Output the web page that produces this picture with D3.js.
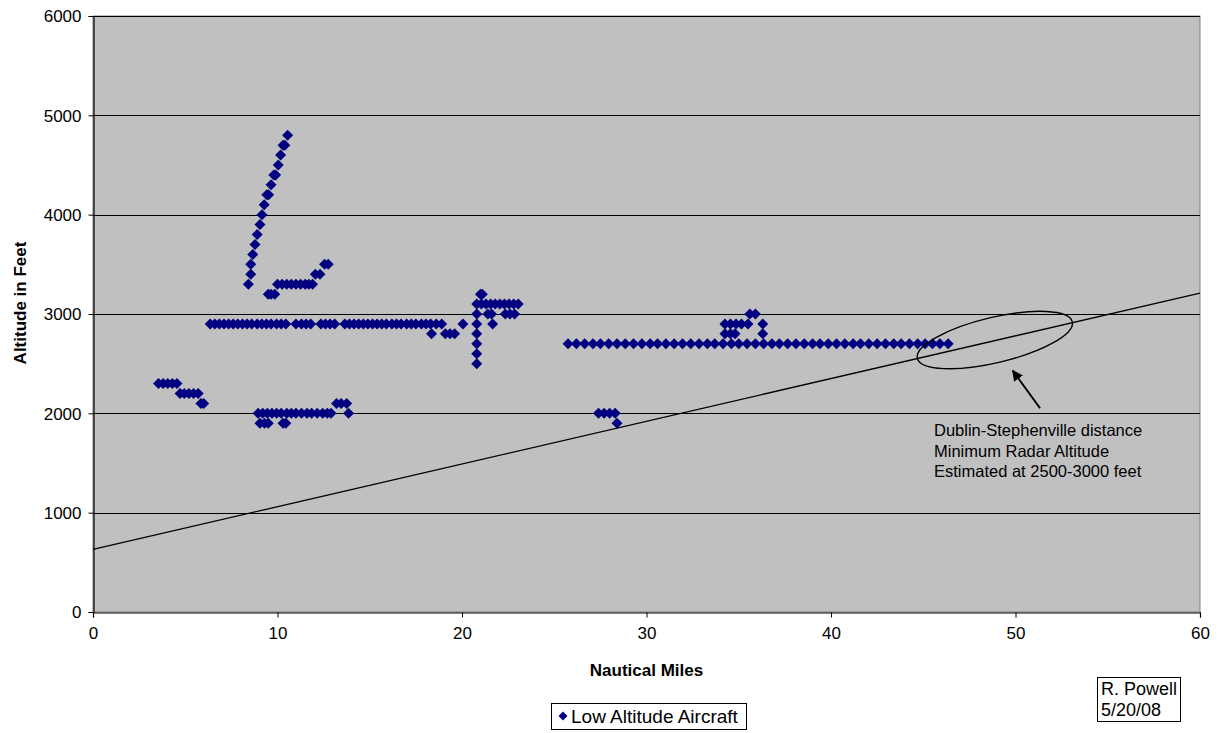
<!DOCTYPE html>
<html>
<head>
<meta charset="utf-8">
<script src="https://cdn.jsdelivr.net/npm/d3@7"></script>
<style>
  html, body { margin: 0; padding: 0; background: #fff; }
  svg text { font-family: "Liberation Sans", Arial, sans-serif; }
</style>
</head>
<body>
<svg id="chart" width="1219" height="733"></svg>
<script>
// Radar returns: [nautical miles, altitude in feet]
const westLow = [
  [3.55,2300],[3.8,2300],[4.05,2300],[4.3,2300],[4.55,2300],
  [4.72,2200],[4.95,2200],[5.2,2200],[5.45,2200],[5.7,2200],
  [5.85,2100],[6.0,2100]
];
const climbTrack = [
  [8.42,3300],[8.55,3400],[8.55,3500],[8.66,3600],[8.78,3700],[8.9,3800],
  [9.05,3900],[9.16,4000],[9.28,4100],[9.42,4200],[9.52,4200],[9.65,4300],
  [9.8,4400],[9.9,4400],[10.04,4500],[10.17,4600],[10.3,4700],[10.4,4700],[10.55,4800]
];
const climbLevel = [
  [9.5,3200],[9.65,3200],[9.85,3200],
  [10.0,3300],[10.25,3300],[10.5,3300],[10.75,3300],[11.0,3300],[11.25,3300],[11.5,3300],[11.7,3300],[11.9,3300],
  [12.05,3400],[12.3,3400],[12.55,3500],[12.75,3500]
];
const level2900 = [
  [6.35,2900],[6.6,2900],[6.85,2900],[7.1,2900],[7.35,2900],[7.6,2900],[7.85,2900],[8.1,2900],
  [8.35,2900],[8.6,2900],[8.9,2900],[9.15,2900],[9.4,2900],[9.65,2900],[9.95,2900],[10.2,2900],
  [10.45,2900],[11.0,2900],[11.3,2900],[11.55,2900],[11.8,2900],[12.35,2900],[12.6,2900],[12.85,2900],
  [13.1,2900],[13.65,2900],[13.9,2900],[14.15,2900],[14.4,2900],[14.65,2900],[14.9,2900],[15.15,2900],
  [15.4,2900],[15.65,2900],[15.9,2900],[16.2,2900],[16.45,2900],[16.7,2900],[17.0,2900],[17.25,2900],
  [17.5,2900],[17.8,2900],[18.05,2900],[18.3,2900],[18.6,2900],[18.9,2900],[20.05,2900],
  [18.35,2800],[19.1,2800],[19.35,2800],[19.6,2800]
];
const level2000 = [
  [8.95,2000],[9.2,2000],[9.45,2000],[9.7,2000],[9.95,2000],[10.2,2000],[10.5,2000],[10.75,2000],
  [11.0,2000],[11.3,2000],[11.6,2000],[11.85,2000],[12.15,2000],[12.45,2000],[12.7,2000],[12.9,2000],
  [13.2,2100],[13.45,2100],[13.75,2100],[13.85,2000],
  [9.05,1900],[9.3,1900],[9.5,1900],[10.3,1900],[10.45,1900]
];
const turnCluster = [
  [20.8,2500],[20.8,2600],[20.8,2700],[20.8,2800],[20.8,2900],[20.8,3000],[20.8,3100],
  [21.0,3200],[21.1,3200],
  [21.05,3100],[21.3,3100],[21.55,3100],[21.8,3100],[22.05,3100],[22.3,3100],[22.55,3100],[22.8,3100],[23.05,3100],
  [21.4,3000],[21.6,3000],[22.35,3000],[22.6,3000],[22.85,3000],[21.66,2900]
];
const level2700 = [
  [25.75,2700],[26.2,2700],[26.65,2700],[27.1,2700],[27.5,2700],[27.95,2700],[28.4,2700],[28.85,2700],
  [29.3,2700],[29.75,2700],[30.2,2700],[30.6,2700],[31.05,2700],[31.5,2700],[31.95,2700],[32.4,2700],
  [32.85,2700],[33.3,2700],[33.7,2700],[34.15,2700],[34.6,2700],[35.0,2700],[35.45,2700],[35.9,2700],
  [36.35,2700],[36.8,2700],[37.2,2700],[37.65,2700],[38.1,2700],[38.55,2700],[39.0,2700],[39.4,2700],
  [39.85,2700],[40.3,2700],[40.75,2700],[41.2,2700],[41.6,2700],[42.05,2700],[42.5,2700],[42.95,2700],
  [43.4,2700],[43.8,2700],[44.25,2700],[44.7,2700],[45.1,2700],[45.5,2700],[45.9,2700],[46.35,2700]
];
const low2000East = [
  [27.4,2000],[27.7,2000],[28.0,2000],[28.3,2000],[28.4,1900]
];
const eastCluster = [
  [34.25,2800],[34.55,2800],[34.8,2800],
  [34.25,2900],[34.55,2900],[34.85,2900],[35.15,2900],[35.5,2900],
  [35.6,3000],[35.9,3000],[36.3,2900],[36.3,2800]
];

// Minimum radar altitude reference line
const radarLine = [[0, 630], [60, 3210]];

// Axis ticks and labels
const xTicks = [0, 10, 20, 30, 40, 50, 60];
const yTicks = [0, 1000, 2000, 3000, 4000, 5000, 6000];
const noteLines = ["Dublin-Stephenville distance", "Minimum Radar Altitude", "Estimated at 2500-3000 feet"];
const noteEllipse = { nm: 48.88, ft: 2738 };
const noteArrow = [[51.33, 2051], [49.85, 2430]];
const seriesName = "Low Altitude Aircraft";
const signature = ["R. Powell", "5/20/08"];

const points = [].concat(westLow, climbTrack, climbLevel, level2900, level2000,
                         turnCluster, level2700, low2000East, eastCluster);

const svg = d3.select("#chart");
const L = 93, R = 1200, T = 16, B = 612;
const x = d3.scaleLinear().domain([0, 60]).range([L, R]);
const y = d3.scaleLinear().domain([0, 6000]).range([B, T]);
const navy = "#000080";
const fs = 17;

// Plot area
svg.append("rect").attr("x", L).attr("y", T).attr("width", R - L).attr("height", B - T)
  .attr("fill", "#c0c0c0").attr("stroke", "#808080").attr("stroke-width", 1);

// Horizontal gridlines
svg.append("g").selectAll("line").data(yTicks.filter(d => d > 0)).join("line")
  .attr("x1", L).attr("x2", R)
  .attr("y1", d => Math.round(y(d)) + 0.5).attr("y2", d => Math.round(y(d)) + 0.5)
  .attr("stroke", "#000").attr("stroke-width", 1);

// Axes
const xAxis = svg.append("g").attr("transform", `translate(0,${B + 0.5})`)
  .call(d3.axisBottom(x).tickValues(xTicks).tickSize(5).tickPadding(9).tickFormat(d3.format("d")));
const yAxis = svg.append("g").attr("transform", `translate(${L + 0.5},0)`)
  .call(d3.axisLeft(y).tickValues(yTicks).tickSize(5).tickPadding(7).tickFormat(d3.format("d")));
[xAxis, yAxis].forEach(g => {
  g.select(".domain").attr("stroke", "#000").attr("stroke-width", 1.2);
  g.selectAll(".tick line").attr("stroke", "#000");
  g.selectAll(".tick text").attr("font-size", fs).attr("fill", "#000")
    .attr("font-family", "'Liberation Sans', Arial, sans-serif");
});
yAxis.selectAll(".tick text").attr("dy", "0.35em");

// Axis titles
svg.append("text").attr("x", (L + R) / 2).attr("y", 676).attr("text-anchor", "middle")
  .attr("font-size", fs).attr("font-weight", "bold").text("Nautical Miles");
svg.append("text").attr("transform", `translate(26,${303}) rotate(-90)`).attr("text-anchor", "middle")
  .attr("font-size", fs).attr("font-weight", "bold").text("Altitude in Feet");

// Reference line
svg.append("line")
  .attr("x1", x(radarLine[0][0])).attr("y1", y(radarLine[0][1]))
  .attr("x2", x(radarLine[1][0])).attr("y2", y(radarLine[1][1]))
  .attr("stroke", "#000").attr("stroke-width", 1.3);

// Diamond markers
const diamond = {
  draw(ctx, size) {
    const r = Math.sqrt(size) / 2;
    ctx.moveTo(0, -r); ctx.lineTo(r, 0); ctx.lineTo(0, r); ctx.lineTo(-r, 0); ctx.closePath();
  }
};
svg.append("g").selectAll("path").data(points).join("path")
  .attr("transform", d => `translate(${x(d[0])},${y(d[1])})`)
  .attr("d", d3.symbol().type(diamond).size(11 * 11))
  .attr("fill", navy);

// Annotation ellipse
svg.append("ellipse")
  .attr("cx", 0).attr("cy", 0).attr("rx", 79.6).attr("ry", 22.7)
  .attr("transform", `translate(${x(noteEllipse.nm)},${y(noteEllipse.ft)}) rotate(-13.3)`)
  .attr("fill", "none").attr("stroke", "#000").attr("stroke-width", 1.4);

// Arrow
svg.append("defs").append("marker").attr("id", "head")
  .attr("viewBox", "0 0 10 10").attr("refX", 9).attr("refY", 5)
  .attr("markerWidth", 5.5).attr("markerHeight", 5.5).attr("orient", "auto")
  .append("path").attr("d", "M0,0 L10,5 L0,10 z").attr("fill", "#000");
svg.append("line")
  .attr("x1", x(noteArrow[0][0])).attr("y1", y(noteArrow[0][1]))
  .attr("x2", x(noteArrow[1][0])).attr("y2", y(noteArrow[1][1]))
  .attr("stroke", "#000").attr("stroke-width", 2).attr("marker-end", "url(#head)");

// Annotation text
svg.append("g").selectAll("text").data(noteLines).join("text")
  .attr("x", 934).attr("y", (d, i) => 436 + i * 20.6)
  .attr("font-size", 16.5).attr("fill", "#000").text(d => d);

// Legend
const lg = svg.append("g");
lg.append("rect").attr("x", 551.5).attr("y", 703.5).attr("width", 195).attr("height", 26)
  .attr("fill", "#fff").attr("stroke", "#000");
lg.append("path").attr("transform", "translate(563,716)")
  .attr("d", d3.symbol().type(diamond).size(9 * 9)).attr("fill", navy);
lg.append("text").attr("x", 571).attr("y", 723).attr("font-size", 19).text(seriesName);

// Signature box
const sg = svg.append("g");
sg.append("rect").attr("x", 1097.5).attr("y", 677.5).attr("width", 83).attr("height", 44)
  .attr("fill", "#fff").attr("stroke", "#000");
sg.selectAll("text").data(signature).join("text")
  .attr("x", 1101).attr("y", (d, i) => 695 + i * 21).attr("font-size", 18).text(d => d);
</script>
</body>
</html>
